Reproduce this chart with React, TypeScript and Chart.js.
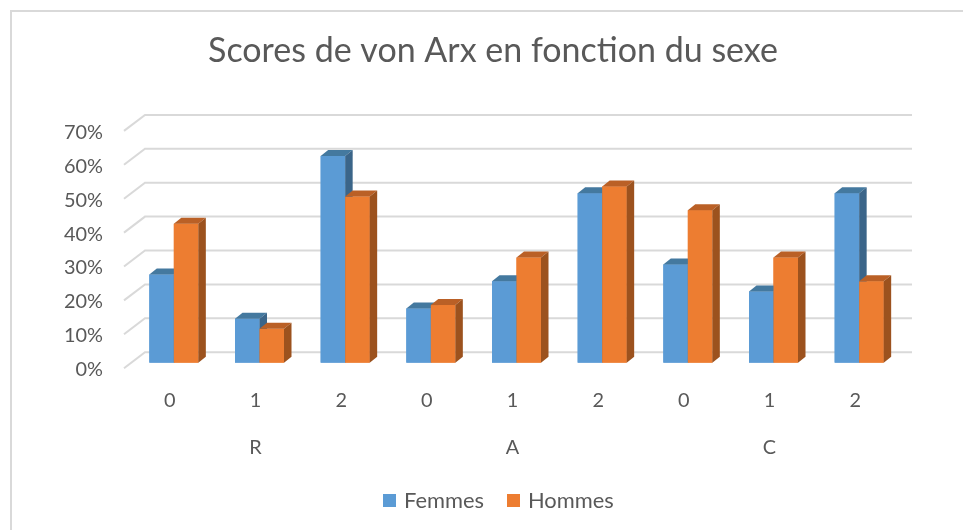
import React, { useEffect, useRef } from "react";
import { Chart, registerables } from "chart.js";

Chart.register(...registerables);

// ---- data ----
const categories = ["0", "1", "2", "0", "1", "2", "0", "1", "2"];
const groups = ["R", "A", "C"];
const femmes = [26, 13, 61, 16, 24, 50, 29, 21, 50];
const hommes = [41, 10, 49, 17, 31, 52, 45, 31, 24];
const yTicks = [0, 10, 20, 30, 40, 50, 60, 70];
const yTickLabels = ["0%", "10%", "20%", "30%", "40%", "50%", "60%", "70%"];
const title = "Scores de von Arx en fonction du sexe";
const seriesNames = ["Femmes", "Hommes"];

const W = 963;
const H = 530;
const FONT = "Lato, 'Open Sans', sans-serif";
const TEXT = "#595959";
const GRID = "#d9d9d9";

const faceColors = [
  { front: "#5B9BD5", top: "#44799F", side: "#3B6589" },
  { front: "#ED7D31", top: "#BA6026", side: "#9C521E" },
];

// 3D depth offsets (bar depth, and bar plane -> front / back walls)
const DX = 7.5;
const DY = -6;
const FRONT_DX = -7;
const FRONT_DY = 5.5;
const BACK_DX = 14;
const BACK_DY = -10.5;
const GRID_RIGHT = 912;

function fitSize(ctx: CanvasRenderingContext2D, text: string, target: number) {
  ctx.font = `100px ${FONT}`;
  const w = ctx.measureText(text).width;
  return (100 * target) / w;
}

const depthPlugin = {
  id: "depth3d",
  beforeDraw(chart: any) {
    const ctx: CanvasRenderingContext2D = chart.ctx;
    ctx.save();
    ctx.fillStyle = "#ffffff";
    ctx.fillRect(0, 0, W, H);
    // outer border
    ctx.strokeStyle = "#d9d9d9";
    ctx.lineWidth = 2;
    ctx.strokeRect(11, 11, W + 10, H + 10);
    // title
    const ts = fitSize(ctx, title, 570);
    ctx.font = `${ts}px ${FONT}`;
    ctx.fillStyle = TEXT;
    ctx.textAlign = "center";
    ctx.textBaseline = "alphabetic";
    ctx.fillText(title, 493, 62);
    ctx.restore();
  },
  beforeDatasetsDraw(chart: any) {
    const ctx: CanvasRenderingContext2D = chart.ctx;
    const y = chart.scales.y;
    const left = chart.chartArea.left;
    ctx.save();
    ctx.strokeStyle = GRID;
    ctx.lineWidth = 2;
    yTicks.forEach((v, i) => {
      const py = y.getPixelForValue(v);
      ctx.beginPath();
      ctx.moveTo(left + FRONT_DX, py + FRONT_DY);
      ctx.lineTo(left + BACK_DX, py + BACK_DY);
      ctx.lineTo(GRID_RIGHT, py + BACK_DY);
      ctx.stroke();
    });
    // y labels
    const ls = fitSize(ctx, "70%", 39);
    ctx.font = `${ls}px ${FONT}`;
    ctx.fillStyle = TEXT;
    ctx.textAlign = "right";
    ctx.textBaseline = "middle";
    yTicks.forEach((v, i) => {
      const py = y.getPixelForValue(v);
      ctx.fillText(yTickLabels[i], 103, py + FRONT_DY + 1.5);
    });
    ctx.restore();
  },
  afterDatasetsDraw(chart: any) {
    const ctx: CanvasRenderingContext2D = chart.ctx;
    const metas = [chart.getDatasetMeta(0), chart.getDatasetMeta(1)];
    ctx.save();
    for (let i = 0; i < categories.length; i++) {
      metas.forEach((meta, d) => {
        const el = meta.data[i];
        const { x, y, base, width } = el.getProps(["x", "y", "base", "width"], true);
        const l = x - width / 2;
        const r = x + width / 2;
        const c = faceColors[d];
        ctx.fillStyle = c.front;
        ctx.fillRect(l, y, r - l, base - y);
        // top
        ctx.fillStyle = c.top;
        ctx.beginPath();
        ctx.moveTo(l, y);
        ctx.lineTo(l + DX, y + DY);
        ctx.lineTo(r + DX, y + DY);
        ctx.lineTo(r, y);
        ctx.closePath();
        ctx.fill();
        // side
        ctx.fillStyle = c.side;
        ctx.beginPath();
        ctx.moveTo(r, y);
        ctx.lineTo(r + DX, y + DY);
        ctx.lineTo(r + DX, base + DY);
        ctx.lineTo(r, base);
        ctx.closePath();
        ctx.fill();
      });
    }
    ctx.restore();
  },
  afterDraw(chart: any) {
    const ctx: CanvasRenderingContext2D = chart.ctx;
    const xs = chart.scales.x;
    ctx.save();
    const fs = fitSize(ctx, "70%", 39);
    ctx.font = `${fs}px ${FONT}`;
    ctx.fillStyle = TEXT;
    ctx.textAlign = "center";
    ctx.textBaseline = "middle";
    categories.forEach((c, i) => {
      ctx.fillText(c, xs.getPixelForValue(i) - 4, 401);
    });
    groups.forEach((g, gi) => {
      const cx = xs.getPixelForValue(gi * 3 + 1) - 4;
      ctx.fillText(g, cx, 447.5);
    });
    // legend
    const lsz = fitSize(ctx, "Femmes", 80);
    ctx.font = `${lsz}px ${FONT}`;
    ctx.textAlign = "left";
    const legendX = [383, 507];
    seriesNames.forEach((n, k) => {
      ctx.fillStyle = faceColors[k].front;
      ctx.fillRect(legendX[k], 494, 13, 13);
      ctx.fillStyle = TEXT;
      ctx.fillText(n, legendX[k] + 21, 501);
    });
    ctx.restore();
  },
};

export default function App() {
  const ref = useRef<HTMLCanvasElement>(null);
  useEffect(() => {
    const canvas = ref.current;
    if (!canvas) return;
    const chart = new Chart(canvas, {
      type: "bar",
      data: {
        labels: categories,
        datasets: [
          { label: seriesNames[0], data: femmes, backgroundColor: faceColors[0].front, borderWidth: 0 },
          { label: seriesNames[1], data: hommes, backgroundColor: faceColors[1].front, borderWidth: 0 },
        ],
      },
      options: {
        responsive: false,
        animation: false,
        devicePixelRatio: 1,
        layout: { padding: { left: 131, right: 61, top: 125.4, bottom: 167.3 } },
        datasets: { bar: { barPercentage: 1, categoryPercentage: 0.572 } },
        plugins: {
          legend: { display: false },
          title: { display: false },
          tooltip: { enabled: false },
        },
        scales: {
          x: { display: false, grid: { display: false } },
          y: { display: false, min: 0, max: 70, grid: { display: false } },
        },
      },
      plugins: [depthPlugin],
    });
    return () => chart.destroy();
  }, []);
  return (
    <div style={{ position: "fixed", left: 0, top: 0, width: W, height: H, background: "#fff", overflow: "hidden" }}>
      <canvas ref={ref} width={W} height={H} style={{ display: "block", width: W, height: H }} />
    </div>
  );
}
